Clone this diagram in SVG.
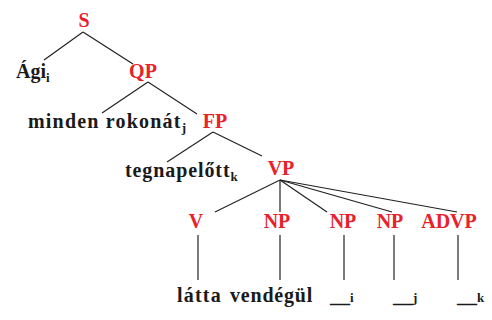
<svg xmlns="http://www.w3.org/2000/svg" width="492" height="320" viewBox="0 0 492 320">
<style>
.cat{font-family:"Liberation Serif","Times New Roman",serif;font-weight:bold;font-size:20px;fill:#e8212b;text-anchor:middle}
.w{font-family:"Liberation Serif","Times New Roman",serif;font-weight:bold;font-size:20px;fill:#1a1a1a}
.sub{font-size:13px}
.edges line{stroke:#222;stroke-width:1.2}
</style>
<rect width="492" height="320" fill="#fff"/>
<g class="edges" id="connectors">
<line x1="83" y1="32" x2="44" y2="60"/>
<line x1="83" y1="32" x2="133" y2="64"/>
<line x1="148" y1="82" x2="102" y2="113"/>
<line x1="148" y1="82" x2="197" y2="114"/>
<line x1="213" y1="132" x2="167" y2="162"/>
<line x1="213" y1="132" x2="262" y2="156"/>
<line x1="280" y1="180" x2="215" y2="212"/>
<line x1="280" y1="180" x2="280" y2="212"/>
<line x1="280" y1="180" x2="327" y2="212"/>
<line x1="280" y1="180" x2="392" y2="212"/>
<line x1="280" y1="180" x2="457" y2="212"/>
<line x1="198" y1="235" x2="198" y2="280"/>
<line x1="280" y1="235" x2="280" y2="280"/>
<line x1="344" y1="235" x2="344" y2="280"/>
<line x1="394" y1="235" x2="394" y2="280"/>
<line x1="458" y1="235" x2="458" y2="280"/>
</g>
<g id="S"><text class="cat" x="84" y="27">S</text></g>
<g id="Agi"><text class="w" x="16" y="78">Ági<tspan class="sub" dy="4">i</tspan></text></g>
<g id="QP"><text class="cat" x="143" y="78">QP</text></g>
<g id="minden"><text class="w" x="28" y="128" letter-spacing="1.2">minden rokonát<tspan class="sub" dy="4" letter-spacing="0">j</tspan></text></g>
<g id="FP"><text class="cat" x="215" y="128">FP</text></g>
<g id="tegnap"><text class="w" x="125" y="177" letter-spacing="0.9">tegnapelőtt<tspan class="sub" dy="4" letter-spacing="0">k</tspan></text></g>
<g id="VP"><text class="cat" x="281" y="175">VP</text></g>
<g id="V"><text class="cat" x="196" y="228">V</text></g>
<g id="NP1"><text class="cat" x="277" y="228">NP</text></g>
<g id="NP2"><text class="cat" x="343" y="228">NP</text></g>
<g id="NP3"><text class="cat" x="390" y="228">NP</text></g>
<g id="ADVP"><text class="cat" x="449" y="228">ADVP</text></g>
<g id="latta"><text class="w" x="177" y="302" letter-spacing="1.2">látta</text></g>
<g id="vendegul"><text class="w" x="230" y="302" letter-spacing="0.8">vendégül</text></g>
<g id="ti"><text class="w" x="330" y="302">__<tspan class="sub">i</tspan></text></g>
<g id="tj"><text class="w" x="393" y="302">__<tspan class="sub">j</tspan></text></g>
<g id="tk"><text class="w" x="457" y="302">__<tspan class="sub">k</tspan></text></g>
</svg>
